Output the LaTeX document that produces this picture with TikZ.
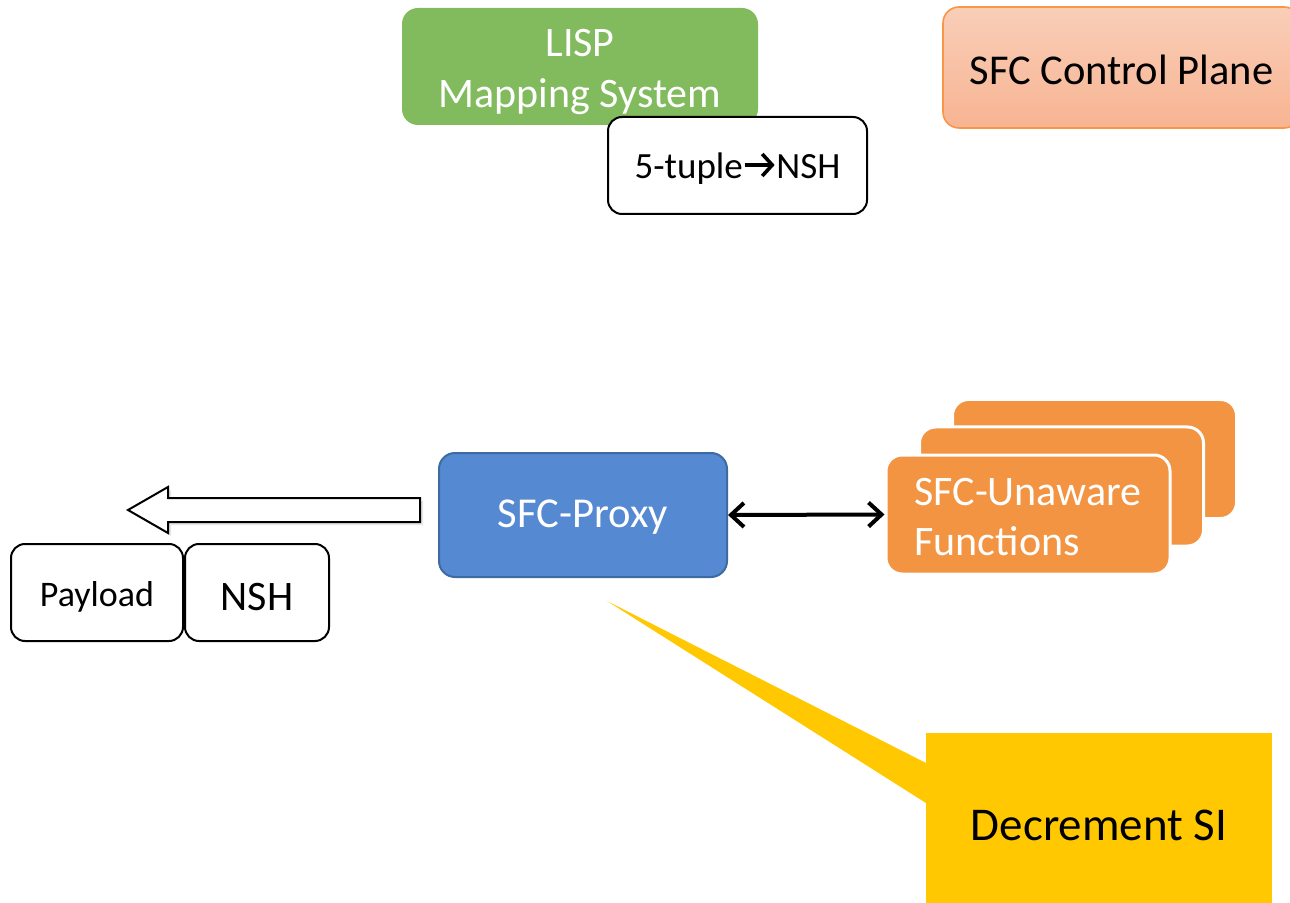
\documentclass[tikz,border=0pt]{standalone}
\usepackage{fontspec}
\setmainfont{Carlito}
\usetikzlibrary{positioning,shapes,arrows.meta,shadows}

\definecolor{lispgreen}{RGB}{130,186,94}
\definecolor{ctrltop}{RGB}{249,206,184}
\definecolor{ctrlbottom}{RGB}{248,180,146}
\definecolor{ctrlborder}{RGB}{247,150,70}
\definecolor{proxyblue}{RGB}{85,137,210}
\definecolor{proxyborder}{RGB}{62,106,162}
\definecolor{fnorange}{RGB}{242,148,66}
\definecolor{siyellow}{RGB}{255,200,0}

\tikzset{
  whitebox/.style={rectangle, rounded corners=7pt, draw=black, line width=1pt, fill=white},
  fnbox/.style={rectangle, rounded corners=8pt, draw=white, line width=1.5pt, fill=fnorange,
    minimum width=142pt, minimum height=59.5pt},
  barb/.tip={Straight Barb[length=6.5pt,width=12pt]}
}
\newcommand{\maparrow}{\tikz[baseline=-7pt] \draw [line width=1.8pt, -{Straight Barb[length=5pt,width=11pt]}] (0pt,0pt) -- (15pt,0pt);}

\begin{document}
\begin{tikzpicture}[x=0.5pt,y=-0.5pt]

      \useasboundingbox (0,0) rectangle (1290,903);

      % mapping system and its table
      \node [rectangle, rounded corners=8pt, fill=lispgreen, text=white, minimum width=178pt, minimum height=58.5pt,
             align=center, text height=41.5pt, text depth=0pt, font=\fontsize{21}{25.5}\selectfont] (lisp_map) at (580, 66.5) {LISP\\Mapping System};
      \node [whitebox, minimum width=129.5pt, minimum height=48.5pt, text height=13.5pt, text depth=0pt, font=\fontsize{18.5}{22}\selectfont]
             (tuple_map) at (737.5, 165.5) {5-tuple\maparrow NSH};

      \node [rectangle, rounded corners=8pt, top color=ctrltop, bottom color=ctrlbottom, draw=ctrlborder, line width=0.8pt,
             minimum width=178.5pt, minimum height=60.5pt, text height=17.5pt, text depth=0pt,
             font=\fontsize{21.25}{25}\selectfont] (sfc_ctrl) at (1121.5, 67.5) {SFC Control Plane};

      % proxy and the functions behind it
      \node [rectangle, rounded corners=8pt, fill=proxyblue, draw=proxyborder, line width=1pt, text=white,
             minimum width=144pt, minimum height=62pt, text height=12pt, text depth=0pt,
             font=\fontsize{21.3}{25}\selectfont] (sfc_proxy) at (583, 515) {SFC-Proxy};

      \node [fnbox] (fn_back) at (1094.5, 459) {};
      \node [fnbox] (fn_mid) at (1061.5, 486.5) {};
      \node [fnbox, text=white, align=left, text height=40.5pt, text depth=0pt,
             font=\fontsize{21}{25}\selectfont] (fn_front) at (1028, 514.5) {SFC-Unaware\\Functions};

      \draw [barb-barb, line width=2pt] (sfc_proxy.east) -- (fn_front.west);

      % outgoing packet
      \draw [fill=white, line width=1pt, drop shadow={opacity=0.2, shadow xshift=1.5pt, shadow yshift=-1.5pt}]
            (128, 510) -- (168, 487) -- (168, 498) -- (420, 498) -- (420, 522) -- (168, 522) -- (168, 533) -- cycle;

      \node [whitebox, minimum width=86pt, minimum height=48.5pt, text height=13.5pt, text depth=0pt,
             font=\fontsize{18}{22}\selectfont] (payload) at (97, 592.5) {Payload};
      \node [whitebox, minimum width=72pt, minimum height=48.5pt, text height=17.5pt, text depth=0pt,
             font=\fontsize{21}{24}\selectfont, right=0pt of payload] (nsh) {NSH};

      % callout
      \fill [siyellow] (607, 601) -- (926, 763) -- (926, 803) -- cycle;
      \node [rectangle, fill=siyellow, minimum width=173pt, minimum height=93.5pt, text height=13.5pt, text depth=0pt,
             font=\fontsize{23.5}{28}\selectfont] (decr_si) at (1099, 826.5) {Decrement SI};

\end{tikzpicture}
\end{document}
